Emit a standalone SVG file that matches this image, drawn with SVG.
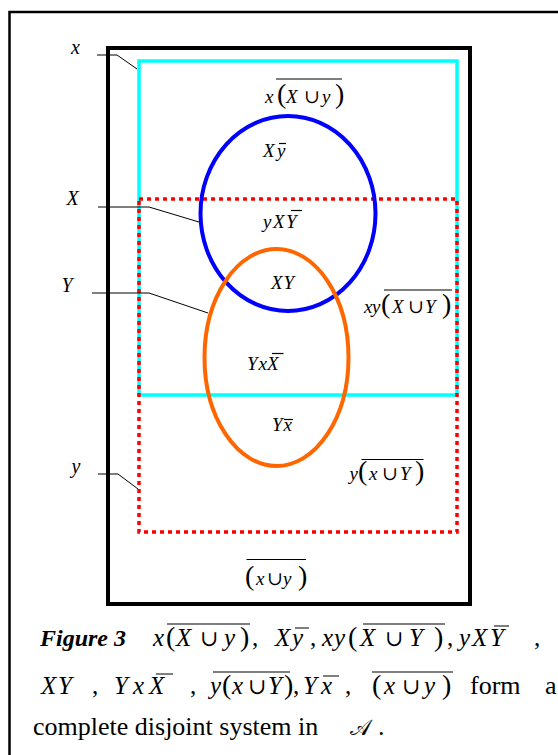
<svg xmlns="http://www.w3.org/2000/svg" width="558" height="755" viewBox="0 0 558 755">
<style>
.m{font-family:"Liberation Serif","DejaVu Serif",serif;font-style:italic;font-size:19px;fill:#000}
.u{font-style:normal}
.p{font-style:normal;font-size:28px}
.lab{font-family:"Liberation Serif",serif;font-style:italic;font-size:20px;fill:#000}
.cm{font-family:"Liberation Serif","DejaVu Serif",serif;font-style:italic;font-size:25px;fill:#000}
.cp{font-style:normal;font-size:28px}
.cn{font-style:normal}
.cu{font-style:normal;font-size:22px}
.body{font-family:"Liberation Serif",serif;font-size:26px;fill:#000}
.fig{font-family:"Liberation Serif",serif;font-size:24px;font-weight:bold;font-style:italic;fill:#000}
.ov{stroke:#000;stroke-width:1.2;fill:none}
.lead{stroke:#000;stroke-width:1;fill:none}
</style>
<rect width="558" height="755" fill="#fff"/>
<path d="M9.5,755 V12 H558" fill="none" stroke="#000" stroke-width="2.5"/>
<g id="universe"><rect x="108" y="48" width="362" height="556" fill="none" stroke="#000" stroke-width="4"/></g>
<g id="x-set"><rect x="139" y="61" width="318" height="334" fill="none" stroke="#00ffff" stroke-width="3.5"/></g>
<g id="y-set"><rect x="139" y="199" width="318" height="333" fill="none" stroke="#ff0000" stroke-width="3.5" stroke-dasharray="4 4"/></g>
<g id="X-set"><ellipse cx="288" cy="213.5" rx="87.5" ry="97.5" fill="none" stroke="#0000ff" stroke-width="4"/></g>
<g id="Y-set"><ellipse cx="276.5" cy="357.5" rx="72" ry="108.5" fill="none" stroke="#ff6600" stroke-width="4"/></g>
<g id="connectors">
<polyline class="lead" points="97,55 117,55 137,69"/>
<polyline class="lead" points="98,207 149,207 199,222"/>
<polyline class="lead" points="92,293 149,293 208,313"/>
<polyline class="lead" points="98,474 118,474 138,489"/>
</g>
<g id="set-labels">
<text class="lab" x="71" y="54">x</text>
<text class="lab" x="66.5" y="205">X</text>
<text class="lab" x="61.5" y="291.5">Y</text>
<text class="lab" x="71.5" y="473">y</text>
</g>
<g id="region-labels">
<text class="m" y="103"><tspan x="265">x</tspan><tspan class="p" x="277">(</tspan><tspan x="286">X</tspan><tspan class="u" x="304">∪</tspan><tspan x="322">y</tspan><tspan class="p" x="335">)</tspan></text>
<path class="ov" d="M276,79 H342"/>
<text class="m" y="156.5"><tspan x="263">X</tspan><tspan x="277">y</tspan></text>
<path class="ov" d="M279,143.5 H286"/>
<text class="m" y="228"><tspan x="263">y</tspan><tspan x="273">X</tspan><tspan x="286">Y</tspan></text>
<path class="ov" d="M291,210.5 H302"/>
<text class="m" y="289"><tspan x="271">X</tspan><tspan x="283.5">Y</tspan></text>
<text class="m" y="313"><tspan x="364">x</tspan><tspan x="372">y</tspan><tspan class="p" x="381">(</tspan><tspan x="392">X</tspan><tspan class="u" x="408">∪</tspan><tspan x="425">Y</tspan><tspan class="p" x="442">)</tspan></text>
<path class="ov" d="M384,290 H452" stroke="#666"/>
<text class="m" y="370"><tspan x="247">Y</tspan><tspan x="258.5">x</tspan><tspan x="267">X</tspan></text>
<path class="ov" d="M272,353.5 H283.5"/>
<text class="m" y="430.5"><tspan x="272">Y</tspan><tspan x="283.5">x</tspan></text>
<path class="ov" d="M284,419.5 H293"/>
<text class="m" y="480"><tspan x="349.5">y</tspan><tspan class="p" x="358">(</tspan><tspan x="369">x</tspan><tspan class="u" x="382">∪</tspan><tspan x="400">Y</tspan><tspan class="p" x="415">)</tspan></text>
<path class="ov" d="M361.5,459.5 H423.5"/>
<text class="m" y="585"><tspan class="p" x="245">(</tspan><tspan x="256">x</tspan><tspan class="u" x="267">∪</tspan><tspan x="283">y</tspan><tspan class="p" x="298">)</tspan></text>
<path class="ov" d="M246.5,559.5 H306"/>
</g>
<g id="caption">
<text class="fig" x="40" y="646">Figure 3</text>
<text class="cm" y="646"><tspan x="153">x</tspan><tspan class="cp" x="166">(</tspan><tspan x="176">X</tspan><tspan class="cu" x="200">∪</tspan><tspan x="224">y</tspan><tspan class="cp" x="240">)</tspan><tspan class="cn" x="252">,</tspan><tspan x="275">X</tspan><tspan x="292">y</tspan><tspan class="cn" x="310">,</tspan><tspan x="322">x</tspan><tspan x="334">y</tspan><tspan class="cp" x="348">(</tspan><tspan x="360">X</tspan><tspan class="cu" x="385">∪</tspan><tspan x="409">Y</tspan><tspan class="cp" x="434">)</tspan><tspan class="cn" x="447">,</tspan><tspan x="459">y</tspan><tspan x="472">X</tspan><tspan x="490">Y</tspan><tspan class="cn" x="534">,</tspan></text>
<path class="ov" d="M167,624 H250 M295,628 H309 M363,624 H445 M494,626 H509"/>
<text class="cm" y="694"><tspan x="41">X</tspan><tspan x="58">Y</tspan><tspan class="cn" x="92">,</tspan><tspan x="114">Y</tspan><tspan x="133">x</tspan><tspan x="149">X</tspan><tspan class="cn" x="190">,</tspan><tspan x="210">y</tspan><tspan class="cp" x="222">(</tspan><tspan x="232">x</tspan><tspan class="cu" x="248">∪</tspan><tspan x="268">Y</tspan><tspan class="cp" x="284">)</tspan><tspan class="cn" x="293">,</tspan><tspan x="303">Y</tspan><tspan x="321">x</tspan><tspan class="cn" x="345">,</tspan><tspan class="cp" x="372">(</tspan><tspan x="384">x</tspan><tspan class="cu" x="402">∪</tspan><tspan x="424">y</tspan><tspan class="cp" x="442">)</tspan></text>
<path class="ov" d="M156,674 H173 M213,672 H290 M323,676 H339 M372,672 H453"/>
<text class="body" x="470" y="694">form</text>
<text class="body" x="545" y="694">a</text>
<text class="body" x="33" y="735">complete disjoint system in</text>
<text class="body" x="350" y="735" style="font-family:'DejaVu Sans',serif;font-size:22px">𝒜</text>
<text class="body" x="378" y="735">.</text>
</g>
</svg>
